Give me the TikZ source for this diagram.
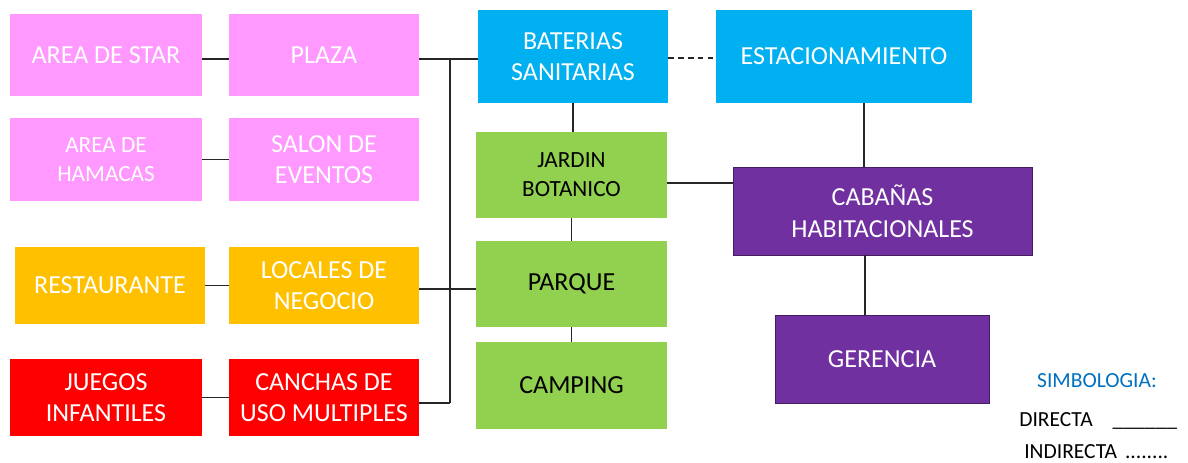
\documentclass[tikz,border=0pt]{standalone}
\usepackage{fontspec}
\setmainfont{Carlito}
\usetikzlibrary{positioning,calc}
\definecolor{zpink}{HTML}{FF99FF}
\definecolor{zblue}{HTML}{00B0F0}
\definecolor{zgreen}{HTML}{92D050}
\definecolor{zorange}{HTML}{FFC000}
\definecolor{zred}{HTML}{FF0000}
\definecolor{zpurple}{HTML}{7030A0}
\definecolor{zlegend}{HTML}{0070C0}

\begin{document}
\begin{tikzpicture}[
    x=0.025cm, y=-0.025cm,
    zbox/.style={rectangle, align=center, inner sep=0pt, text=white,
                 font=\fontsize{18.5}{22.5}\selectfont},
    smalltxt/.style={font=\fontsize{16.5}{20.5}\selectfont},
    link/.style={draw=black!85, line width=0.8pt},
    every node/.style={font=\fontsize{15.3}{18}\selectfont}
  ]

  % ---- Canvas ----
  \useasboundingbox (0,0) rectangle (1188,462);
  \fill[white] (0,0) rectangle (1188,462);

  % ============ LEFT COLUMNS (two boxes per row) ============

  % Row 1: pink
  \node[zbox, fill=zpink, minimum width=4.8cm, minimum height=2.05cm]
    (STAR) at (106,55) {AREA DE STAR};
  \node[zbox, fill=zpink, minimum width=4.75cm, minimum height=2.05cm]
    (PLAZA) at (324,55) {PLAZA};

  % Row 2: pink
  \node[zbox, smalltxt, fill=zpink, minimum width=4.8cm, minimum height=2.075cm]
    (HAMACAS) at (106,159.5) {AREA DE\\HAMACAS};
  \node[zbox, fill=zpink, minimum width=4.75cm, minimum height=2.075cm]
    (SALON) at (324,159.5) {SALON DE\\EVENTOS};

  % Row 3: orange
  \node[zbox, fill=zorange, minimum width=4.75cm, minimum height=1.925cm]
    (REST) at (110,285.5) {RESTAURANTE};
  \node[zbox, fill=zorange, minimum width=4.75cm, minimum height=1.925cm]
    (LOCALES) at (324,285.5) {LOCALES DE\\NEGOCIO};

  % Row 4: red
  \node[zbox, fill=zred, minimum width=4.8cm, minimum height=1.925cm]
    (JUEGOS) at (106,397.5) {JUEGOS\\INFANTILES};
  \node[zbox, fill=zred, minimum width=4.75cm, minimum height=1.925cm]
    (CANCHAS) at (324,397.5) {CANCHAS DE\\USO MULTIPLES};

  % ============ CENTRE COLUMN ============
  \node[zbox, fill=zblue, minimum width=4.75cm, minimum height=2.325cm]
    (BAT) at (573,56.5) {BATERIAS\\SANITARIAS};
  \node[zbox, smalltxt, fill=zgreen, text=black, minimum width=4.775cm, minimum height=2.15cm]
    (JARDIN) at (571.5,175) {JARDIN\\BOTANICO};
  \node[zbox, fill=zgreen, text=black, minimum width=4.775cm, minimum height=2.15cm]
    (PARQUE) at (571.5,284) {PARQUE};
  \node[zbox, fill=zgreen, text=black, minimum width=4.775cm, minimum height=2.175cm]
    (CAMPING) at (571.5,385.5) {CAMPING};

  % ============ RIGHT COLUMN ============
  \node[zbox, fill=zblue, minimum width=6.4cm, minimum height=2.325cm]
    (EST) at (844,56.5) {ESTACIONAMIENTO};
  \node[zbox, fill=zpurple, draw=zpurple!60!black, line width=0.5pt,
        minimum width=7.475cm, minimum height=2.2cm]
    (CAB) at (882.5,211) {CABAÑAS\\HABITACIONALES};
  \node[zbox, fill=zpurple, draw=zpurple!60!black, line width=0.5pt,
        minimum width=5.35cm, minimum height=2.2cm]
    (GER) at (882,359) {GERENCIA};

  % ---- Legend ----
  \node[text=zlegend] (SIMB) at (1097,381) {SIMBOLOGIA:};
  \node[anchor=west, inner sep=0pt] (DIR) at (1019,421) {DIRECTA\hspace{0.5cm}\_\_\_\_\_\_};
  \node[anchor=west, inner sep=0pt] (IND) at (1024,452) {INDIRECTA\hspace{0.2cm}........};

  % ---- Row links ----
  \draw[link] (STAR.east |- 0,59) -- (PLAZA.west |- 0,59);
  \draw[link] (HAMACAS) -- (SALON);
  \draw[link] (REST) -- (LOCALES);
  \draw[link] (JUEGOS) -- (CANCHAS);

  % ---- Bus to the centre column ----
  \coordinate (BUST) at (450,59);
  \coordinate (BUSB) at (450,403);
  \draw[link] (PLAZA.east |- BUST) -- (BAT.west |- BUST);
  \draw[link] (BUST) -- (BUSB);
  \draw[link] (CANCHAS.east |- BUSB) -- (BUSB);
  \draw[link] (LOCALES.east |- 0,289) -- (PARQUE.west |- 0,289);

  % ---- Centre chain ----
  \draw[link] (BAT.south) -- (BAT.south |- JARDIN.north);
  \draw[link] (JARDIN) -- (PARQUE);
  \draw[link] (PARQUE) -- (CAMPING);

  % ---- Right side ----
  \draw[link, dash pattern=on 4pt off 3pt] (BAT.east |- 0,58) -- (EST.west |- 0,58);
  \draw[link] (EST.south -| 864,0) -- (CAB.north -| 864,0);
  \draw[link] (JARDIN.east |- 0,183) -- (CAB.west |- 0,183);
  \draw[link] (CAB.south -| 865,0) -- (GER.north -| 865,0);

\end{tikzpicture}
\end{document}
